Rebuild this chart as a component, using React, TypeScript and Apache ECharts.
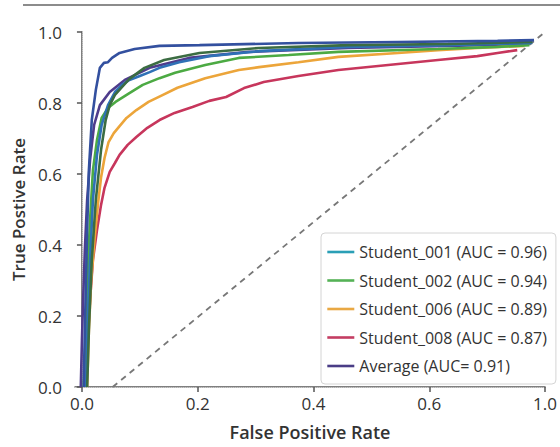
import React, { useEffect, useRef } from "react";
import * as echarts from "echarts";

// x values are on the picture's horizontal scale (right edge tick labelled "1.0")
const s001X = [0.003, 0.005, 0.007, 0.009, 0.012, 0.017, 0.024, 0.031, 0.038, 0.045, 0.052, 0.065, 0.091, 0.134, 0.203, 0.374, 0.546, 0.718, 0.781];
const s001Y = [0, 0.161, 0.301, 0.442, 0.611, 0.752, 0.837, 0.899, 0.913, 0.915, 0.927, 0.941, 0.952, 0.961, 0.963, 0.969, 0.972, 0.975, 0.977];

const s003X = [0.009, 0.012, 0.017, 0.024, 0.033, 0.041, 0.048, 0.057, 0.069, 0.082, 0.108, 0.142, 0.203, 0.306, 0.46, 0.632, 0.778];
const s003Y = [0, 0.161, 0.358, 0.527, 0.668, 0.752, 0.794, 0.823, 0.845, 0.868, 0.899, 0.921, 0.941, 0.955, 0.963, 0.966, 0.972];

const s004X = [0.007, 0.01, 0.014, 0.019, 0.026, 0.034, 0.045, 0.057, 0.069, 0.082, 0.1, 0.117, 0.134, 0.168, 0.22, 0.306, 0.46, 0.632, 0.778];
const s004Y = [0, 0.189, 0.358, 0.527, 0.654, 0.738, 0.794, 0.831, 0.851, 0.865, 0.876, 0.887, 0.899, 0.915, 0.932, 0.946, 0.958, 0.963, 0.969];

const s002X = [0.003, 0.007, 0.01, 0.014, 0.019, 0.026, 0.034, 0.045, 0.058, 0.082, 0.105, 0.134, 0.161, 0.213, 0.271, 0.357, 0.443, 0.615, 0.718, 0.773];
const s002Y = [0, 0.161, 0.33, 0.47, 0.611, 0.696, 0.758, 0.786, 0.803, 0.828, 0.851, 0.87, 0.885, 0.907, 0.927, 0.935, 0.944, 0.952, 0.958, 0.963];

const s006X = [0.009, 0.012, 0.016, 0.022, 0.028, 0.033, 0.039, 0.046, 0.055, 0.065, 0.077, 0.094, 0.115, 0.14, 0.165, 0.213, 0.271, 0.306, 0.374, 0.443, 0.546, 0.615, 0.683, 0.764];
const s006Y = [0, 0.161, 0.301, 0.42, 0.52, 0.59, 0.645, 0.69, 0.715, 0.735, 0.758, 0.78, 0.803, 0.823, 0.843, 0.87, 0.893, 0.901, 0.915, 0.93, 0.941, 0.949, 0.955, 0.961];

const s008X = [0.007, 0.01, 0.014, 0.019, 0.026, 0.033, 0.039, 0.048, 0.057, 0.065, 0.079, 0.094, 0.113, 0.134, 0.16, 0.191, 0.22, 0.249, 0.28, 0.314, 0.374, 0.443, 0.529, 0.615, 0.683, 0.718, 0.752];
const s008Y = [0, 0.132, 0.245, 0.358, 0.442, 0.513, 0.561, 0.606, 0.631, 0.654, 0.682, 0.704, 0.73, 0.752, 0.772, 0.789, 0.806, 0.817, 0.842, 0.859, 0.876, 0.893, 0.907, 0.921, 0.932, 0.941, 0.949];

const avgX = [-0.002, 0, 0.002, 0.005, 0.009, 0.014, 0.021, 0.031, 0.048, 0.074, 0.117, 0.185, 0.288, 0.46, 0.632, 0.769];
const avgY = [0, 0.132, 0.245, 0.386, 0.527, 0.639, 0.738, 0.794, 0.831, 0.865, 0.899, 0.927, 0.944, 0.955, 0.961, 0.966];

const chanceX = [0.053, 0.8];
const chanceY = [0, 1];

const xTicks = [0, 0.2, 0.4, 0.6, 0.8];
const xTickLabels = ["0.0", "0.2", "0.4", "0.6", "1.0"];

const legendNames = [
  "Student_001 (AUC = 0.96)",
  "Student_002 (AUC = 0.94)",
  "Student_006 (AUC = 0.89)",
  "Student_008 (AUC = 0.87)",
  "Average (AUC= 0.91)",
];
const legendColors = ["#2a9fb6", "#55b256", "#e9a844", "#c43d62", "#4a3d86"];

const zip = (xs: number[], ys: number[]) => xs.map((x, i) => [x, ys[i]]);

export default function App() {
  const ref = useRef<HTMLDivElement>(null);
  useEffect(() => {
    document.body.style.margin = "0";
    const chart = echarts.init(ref.current!, null, { renderer: "svg" });
    const font = "Open Sans";
    const line = (name: string, xs: number[], ys: number[], color: string, z: number) => ({
      type: "line",
      name,
      data: zip(xs, ys),
      showSymbol: false,
      symbol: "none",
      smooth: false,
      z,
      lineStyle: { color, width: 2.6 },
      itemStyle: { color },
    });
    chart.setOption({
      animation: false,
      textStyle: { fontFamily: font },
      grid: { left: 75, right: 12, top: 32, bottom: 60 },
      graphic: [
        {
          type: "line",
          shape: { x1: 23, y1: 5, x2: 560, y2: 5 },
          style: { stroke: "#8c8c8c", lineWidth: 2 },
        },
      ],
      xAxis: [
        {
          type: "value",
          min: -0.012,
          max: 0.8,
          name: "False Positive Rate",
          nameLocation: "middle",
          nameGap: 36,
          nameTextStyle: { fontSize: 18, fontWeight: 600, color: "#333", fontFamily: font },
          splitLine: { show: false },
          axisLine: { show: true, lineStyle: { color: "#555", width: 1.5 } },
          axisTick: { show: true, length: 5, customValues: xTicks, lineStyle: { color: "#555", width: 1.5 } },
          axisLabel: {
            customValues: xTicks,
            margin: 8,
            fontSize: 17,
            color: "#333",
            fontFamily: font,
            formatter: (v: number) => {
              const i = xTicks.findIndex((t) => Math.abs(t - v) < 1e-6);
              return i >= 0 ? xTickLabels[i] : "";
            },
          },
        },
        {
          type: "value",
          position: "top",
          min: -0.012,
          max: 0.8,
          splitLine: { show: false },
          axisLine: { show: true, lineStyle: { color: "#c8c8c8", width: 1, type: "dotted" } },
          axisTick: { show: false },
          axisLabel: { show: false },
        },
      ],
      yAxis: [
        {
          type: "value",
          min: 0,
          max: 1,
          interval: 0.2,
          name: "True Postive Rate",
          nameLocation: "middle",
          nameGap: 48,
          nameTextStyle: { fontSize: 17, fontWeight: 600, color: "#333", fontFamily: font },
          splitLine: { show: false },
          axisLine: { show: true, lineStyle: { color: "#555", width: 1.5 } },
          axisTick: { show: true, length: 5, lineStyle: { color: "#555", width: 1.5 } },
          axisLabel: {
            margin: 13,
            fontSize: 17,
            color: "#333",
            fontFamily: font,
            formatter: (v: number) => v.toFixed(1),
          },
        },
        {
          type: "value",
          position: "right",
          min: 0,
          max: 1,
          splitLine: { show: false },
          axisLine: { show: true, lineStyle: { color: "#c8c8c8", width: 1, type: "dotted" } },
          axisTick: { show: false },
          axisLabel: { show: false },
        },
      ],
      legend: {
        orient: "vertical",
        left: 321,
        top: 233,
        padding: [11, 9, 10, 5],
        itemWidth: 27,
        itemHeight: 15,
        itemGap: 12.5,
        borderColor: "#d4d4d4",
        borderWidth: 1,
        borderRadius: 4,
        backgroundColor: "rgba(255,255,255,0.9)",
        textStyle: { fontSize: 16, color: "#333", fontFamily: font },
        data: legendNames.map((n, i) => ({
          name: n,
          itemStyle: { opacity: 0 },
          lineStyle: { color: legendColors[i], width: 2.6 },
        })),
      },
      series: [
        {
          type: "line",
          name: "chance",
          data: zip(chanceX, chanceY),
          showSymbol: false,
          symbol: "none",
          z: 1,
          lineStyle: { color: "#777", width: 1.8, type: [6, 5] },
        },
        line(legendNames[4], avgX, avgY, "#4f3c8c", 2),
        line(legendNames[3], s008X, s008Y, "#c7365c", 3),
        line(legendNames[2], s006X, s006Y, "#eca53a", 4),
        line(legendNames[1], s002X, s002Y, "#4caa43", 5),
        line("Student_004", s004X, s004Y, "#2f71b6", 6),
        line("Student_003", s003X, s003Y, "#3b6c42", 7),
        line(legendNames[0], s001X, s001Y, "#33509f", 8),
      ],
    });
    return () => chart.dispose();
  }, []);
  return <div ref={ref} style={{ width: 560, height: 447 }} />;
}
